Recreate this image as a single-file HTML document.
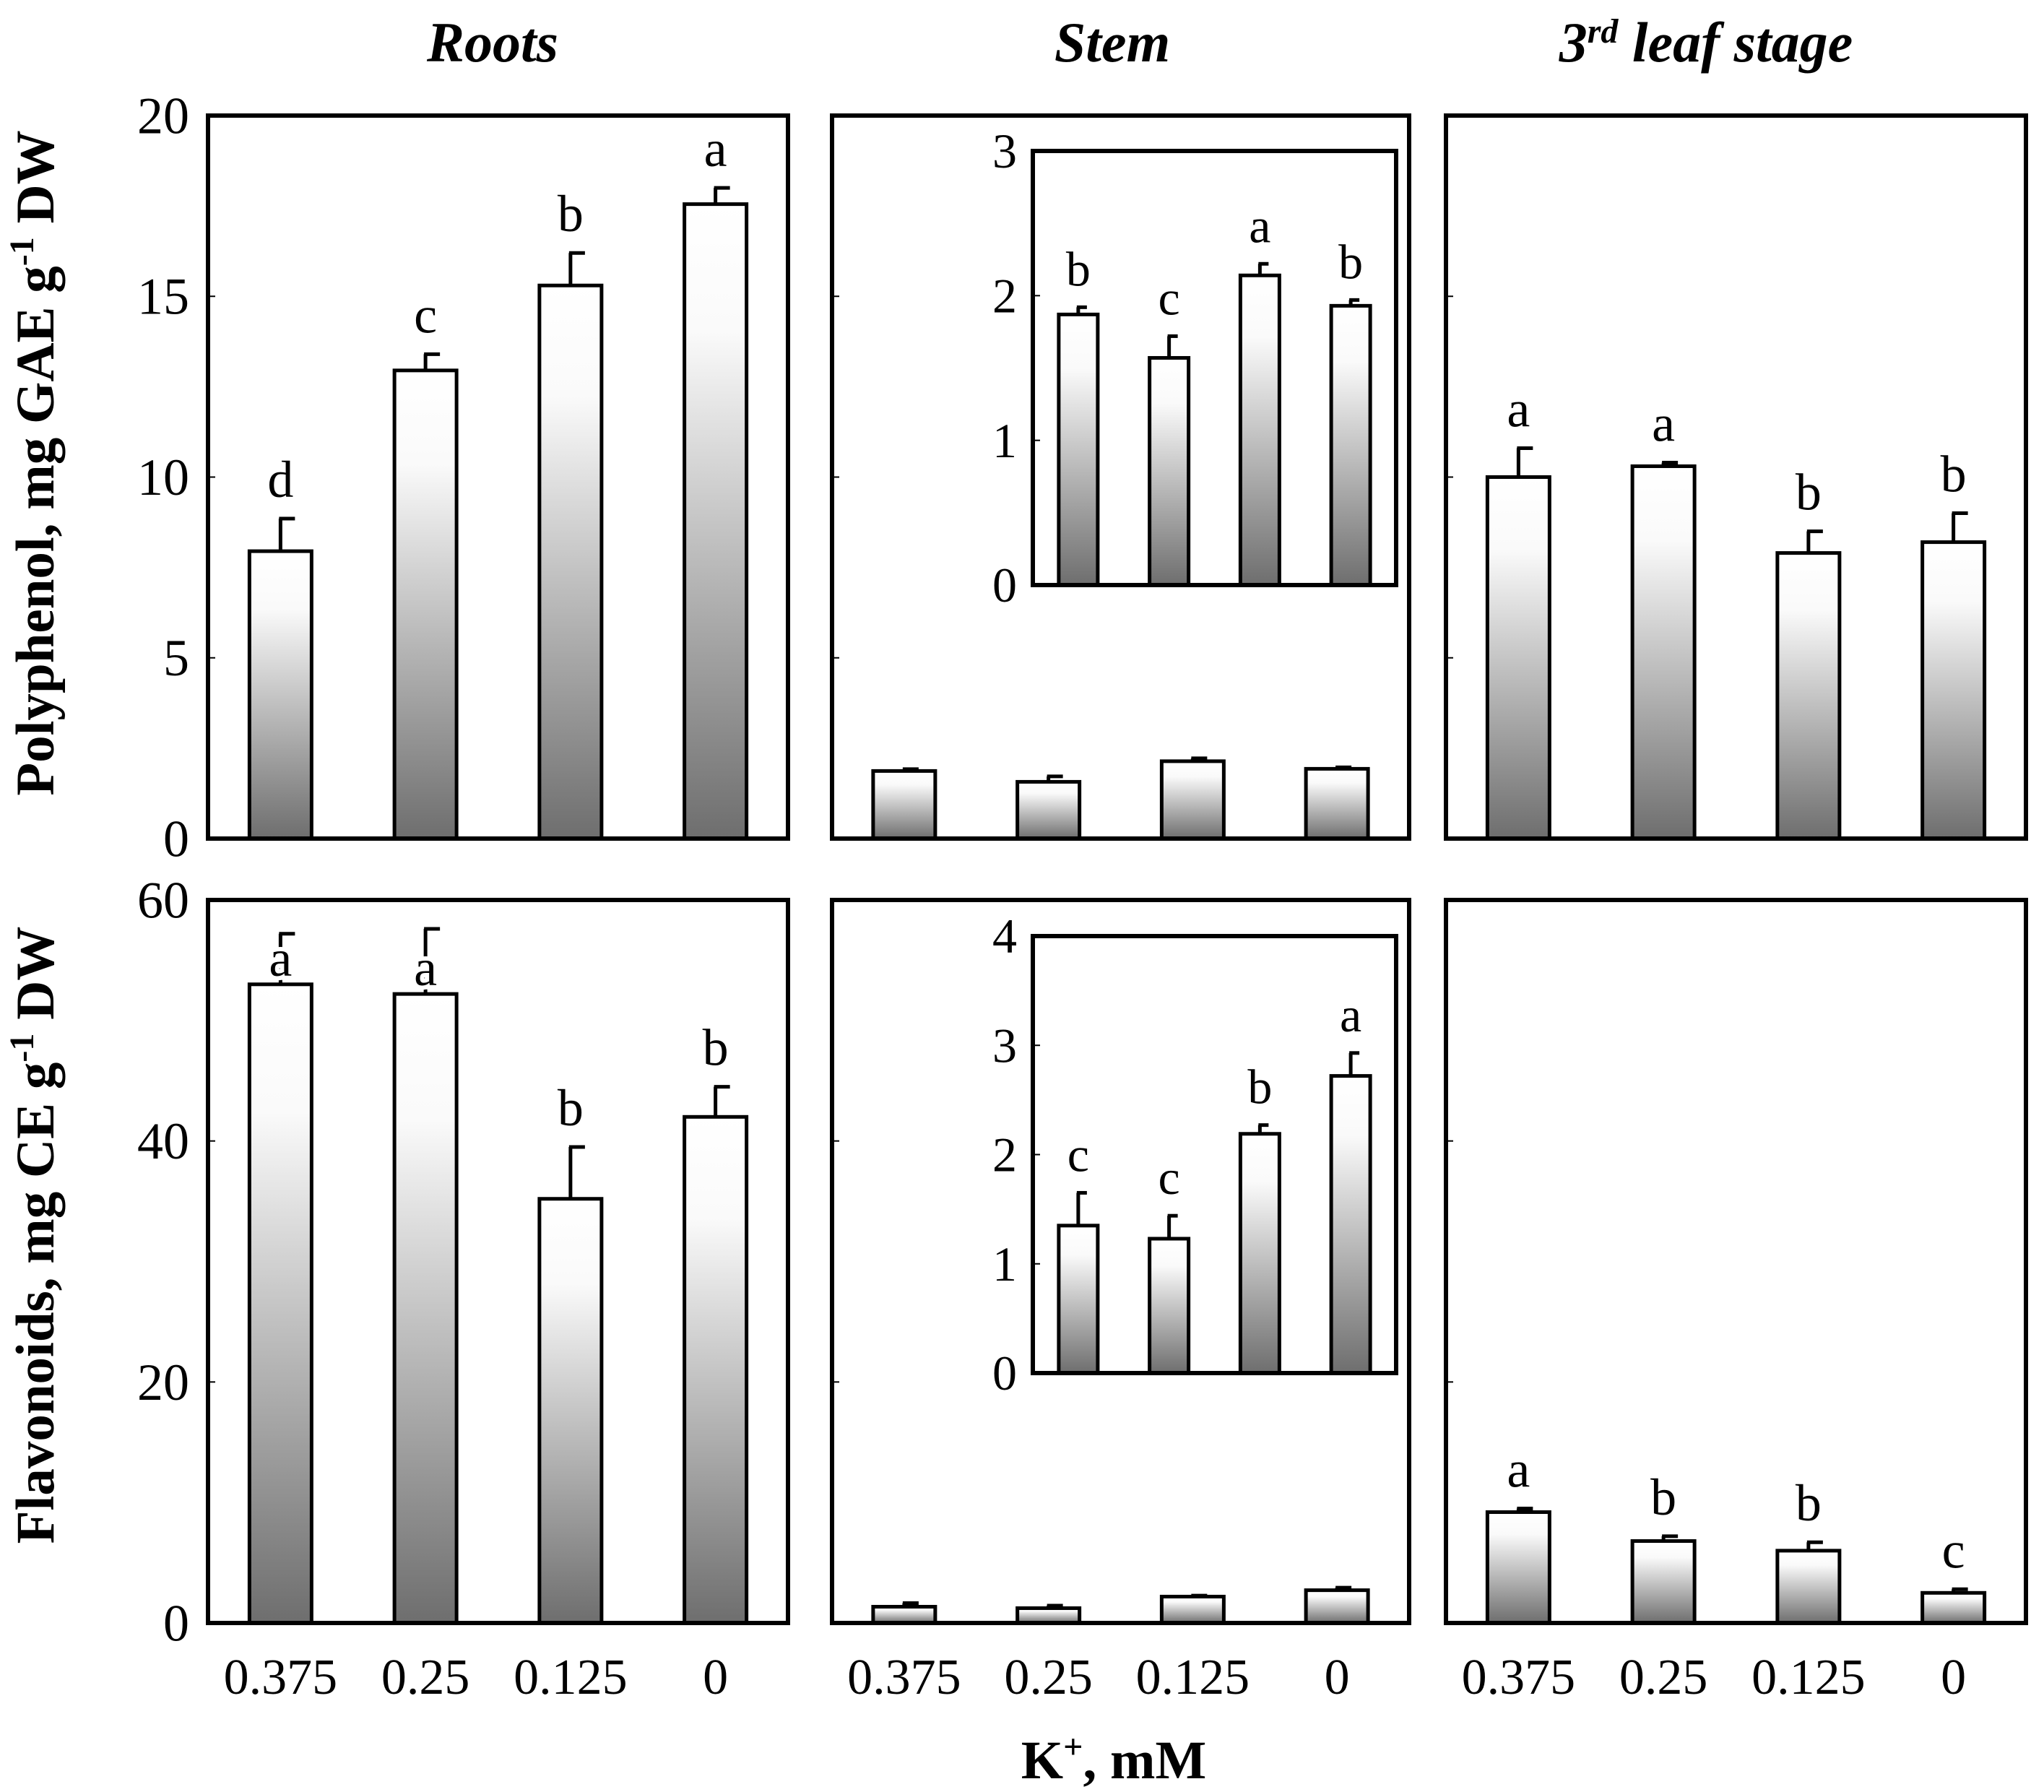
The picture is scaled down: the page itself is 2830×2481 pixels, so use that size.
<!DOCTYPE html>
<html><head><meta charset="utf-8"><style>
html,body{margin:0;padding:0;background:#fff;}
svg{display:block;font-family:"Liberation Serif",serif;}
</style></head><body>
<svg id="chart" width="2830" height="2481" viewBox="0 0 2830 2481" xmlns="http://www.w3.org/2000/svg">
<defs>
<linearGradient id="g" x1="0" y1="0" x2="0" y2="1">
<stop offset="0" stop-color="#ffffff"/><stop offset="0.2" stop-color="#fafafa"/><stop offset="1" stop-color="#6e6e6e"/>
</linearGradient>
</defs>
<g id="root"></g>
</svg>
<script>
const categories = ["0.375","0.25","0.125","0"];
const rootsPoly = [7.95, 12.95, 15.3, 17.55];
const rootsPolyErr = [8.85, 13.4, 16.2, 18.0];
const rootsPolyLetters = ["d","c","b","a"];
const stemPoly = [1.87, 1.57, 2.14, 1.93];
const stemPolyErr = [1.92, 1.72, 2.22, 1.97];
const stemPolyLetters = ["b","c","a","b"];
const leafPoly = [10.0, 10.3, 7.9, 8.2];
const leafPolyErr = [10.8, 10.4, 8.5, 9.0];
const leafPolyLetters = ["a","a","b","b"];
const rootsFlav = [53.0, 52.2, 35.2, 42.0];
const rootsFlavErr = [57.2, 57.6, 39.5, 44.5];
const rootsFlavLetters = ["a","a","b","b"];
const stemFlav = [1.35, 1.23, 2.19, 2.72];
const stemFlavErr = [1.65, 1.44, 2.27, 2.93];
const stemFlavLetters = ["c","c","b","a"];
const leafFlav = [9.2, 6.8, 6.0, 2.5];
const leafFlavErr = [9.5, 7.2, 6.7, 2.8];
const leafFlavLetters = ["a","b","b","c"];
const polyTicks = [0,5,10,15,20];
const flavTicks = [0,20,40,60];
const insetPolyTicks = [0,1,2,3];
const insetFlavTicks = [0,1,2,3,4];

const NS="http://www.w3.org/2000/svg";
const root=document.getElementById('root');
function mk(tag,attrs,parent){const e=document.createElementNS(NS,tag);for(const k in attrs)e.setAttribute(k,attrs[k]);(parent||root).appendChild(e);return e;}
function txt(s,x,y,size,anchor,parent,extra){const t=mk('text',Object.assign({x:x,y:y,'font-size':size,'text-anchor':anchor||'middle',fill:'#000'},extra||{}),parent);t.textContent=s;return t;}

function panel(name,x0,x1,yTop,yBot,max,vals,errs,letters,ticks,opts){
  const g=mk('g',{});
  
  
  const ys=v=>yBot-(v/max)*(yBot-yTop);
  const band=(x1-x0)/vals.length;
  const xc=i=>x0+band*(i+0.5);
  const bw=opts.bw, lw=opts.lw;
  mk('rect',{x:x0,y:yTop,width:x1-x0,height:yBot-yTop,fill:'#fff',stroke:'none'},g);
  ticks.forEach(t=>{
    if(t>0&&t<max){const l=mk('line',{x1:x0,x2:x0+10,y1:ys(t),y2:ys(t),stroke:'#000','stroke-width':2},g);
      
      }
    if(opts.labels){const lb=txt(String(t),opts.labelX,ys(t)+opts.fs*0.34,opts.fs,'end',g);
      
      }
  });
  vals.forEach((v,i)=>{
    const x=xc(i);
    if(errs&&opts.showErr){
      const e=mk('line',{x1:x,x2:x,y1:ys(v),y2:ys(errs[i]),stroke:'#000','stroke-width':lw},g);
      
      
      const c=mk('line',{x1:x-2,x2:x+opts.cap,y1:ys(errs[i]),y2:ys(errs[i]),stroke:'#000','stroke-width':lw},g);
      
      
    }
    const r=mk('rect',{x:x-bw/2,y:ys(v),width:bw,height:Math.max(0,yBot-ys(v)),fill:'url(#g)',stroke:'#000','stroke-width':lw},g);
    
    
    if(letters){
      let ly=ys(errs[i])-opts.gap;
      if(opts.lowLetters){ly=ys(v)-14;}
      const lt=txt(letters[i],x,ly,opts.fs,'middle',g,opts.lowLetters?{stroke:'#fff','stroke-width':14,'paint-order':'stroke'}:{});
      
      }
  });
  mk('rect',{x:x0,y:yTop,width:x1-x0,height:yBot-yTop,fill:'none',stroke:'#000','stroke-width':6},g);
  return g;
}
const main={bw:86,lw:5,cap:20,fs:72,labels:false,labelX:262,gap:30,showErr:true};
const withLab=Object.assign({},main,{labels:true});
const quiet=Object.assign({},main,{showErr:true});
const rootsFlavOpts=Object.assign({},withLab);
const inset={bw:54,lw:5,cap:12,fs:68,labels:true,labelX:1408,gap:30,showErr:true};

const T1=160,B1=1161,T2=1246,B2=2247;
panel('roots-polyphenol-panel',288,1091,T1,B1,20,rootsPoly,rootsPolyErr,rootsPolyLetters,polyTicks,withLab);
panel('stem-polyphenol-panel',1152,1951,T1,B1,20,stemPoly,stemPolyErr,null,polyTicks,quiet);
panel('leaf-polyphenol-panel',2002,2805,T1,B1,20,leafPoly,leafPolyErr,leafPolyLetters,polyTicks,main);
const rf=panel('roots-flavonoid-panel',288,1091,T2,B2,60,rootsFlav,rootsFlavErr,null,flavTicks,rootsFlavOpts);
// letters for roots flavonoids: first two sit just above bars, covering the error line
(function(){
  const ys=v=>B2-(v/60)*(B2-T2);
  const band=(1091-288)/4;
  rootsFlavLetters.forEach((l,i)=>{
    const x=288+band*(i+0.5);
    const low=(ys(rootsFlavErr[i])-ys(rootsFlav[i])) > -1 && i<2;
    const y= i<2 ? ys(rootsFlav[i])-12 : ys(rootsFlavErr[i])-30;
    const t=txt(l,x,y,72,'middle',rf, i<2?{stroke:'#fff','stroke-width':12,'paint-order':'stroke'}:{});
    
    
  });
})();
panel('stem-flavonoid-panel',1152,1951,T2,B2,60,stemFlav,stemFlavErr,null,flavTicks,quiet);
panel('leaf-flavonoid-panel',2002,2805,T2,B2,60,leafFlav,leafFlavErr,leafFlavLetters,flavTicks,main);
panel('stem-polyphenol-inset',1430,1933,209,810,3,stemPoly,stemPolyErr,stemPolyLetters,insetPolyTicks,inset);
panel('stem-flavonoid-inset',1430,1933,1296,1901,4,stemFlav,stemFlavErr,stemFlavLetters,insetFlavTicks,inset);

[[288,1091],[1152,1951],[2002,2805]].forEach(p=>{
  const band=(p[1]-p[0])/categories.length;
  categories.forEach((c,i)=>{const t=txt(c,p[0]+band*(i+0.5),2345,70,'middle');
    
    });
});
</script>
<script>
const svg=document.getElementById('chart');
function tt(s,x,y,size,attrs,name){const t=document.createElementNS("http://www.w3.org/2000/svg",'text');
  t.setAttribute('x',x);t.setAttribute('y',y);t.setAttribute('font-size',size);t.setAttribute('text-anchor','middle');
  for(const k in attrs)t.setAttribute(k,attrs[k]);
  t.innerHTML=s;
  
  
  svg.appendChild(t);return t;}
tt('Roots',682,85,78,{'font-weight':'bold','font-style':'italic'},'roots-title');
tt('Stem',1540,85,78,{'font-weight':'bold','font-style':'italic'},'stem-title');
tt('3<tspan dy="-26" font-size="48">rd</tspan><tspan dy="26"> leaf stage</tspan>',2362,85,78,{'font-weight':'bold','font-style':'italic'},'leaf-title');
tt('Polyphenol, mg GAE g<tspan dy="-28" font-size="48">-1</tspan><tspan dy="28"> DW</tspan>',0,0,75,{'font-weight':'bold','transform':'translate(74,641) rotate(-90)'},'y-axis-title-polyphenol');
tt('Flavonoids, mg CE g<tspan dy="-28" font-size="48">-1</tspan><tspan dy="28"> DW</tspan>',0,0,75,{'font-weight':'bold','transform':'translate(74,1710) rotate(-90)'},'y-axis-title-flavonoids');
tt('K<tspan dy="-28" font-size="48">+</tspan><tspan dy="28">, mM</tspan>',1542,2462,75,{'font-weight':'bold'},'x-axis-title');
</script>
</body></html>
